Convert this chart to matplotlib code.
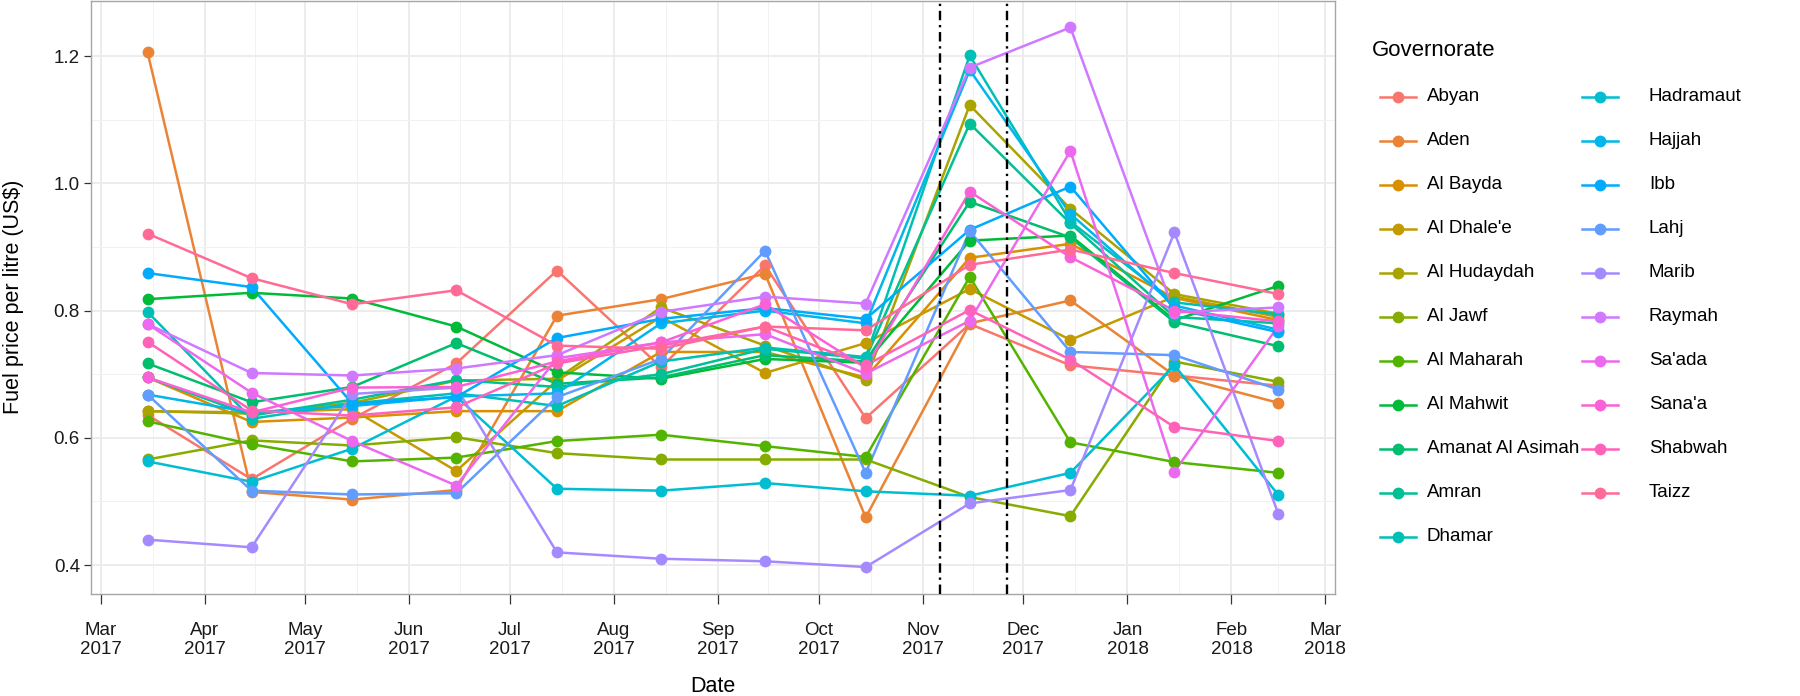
import numpy as np
import pandas as pd
import matplotlib
matplotlib.use('Agg')
import matplotlib.pyplot as plt
from matplotlib.lines import Line2D

plt.rcParams['font.family'] = ['Liberation Sans', 'DejaVu Sans']

# --------- data
dates = pd.to_datetime(['2017-03-15', '2017-04-15', '2017-05-15', '2017-06-15',
                        '2017-07-15', '2017-08-15', '2017-09-15', '2017-10-15',
                        '2017-11-15', '2017-12-15', '2018-01-15', '2018-02-15'])

governorates = ['Abyan', 'Aden', 'Al Bayda', "Al Dhale'e", 'Al Hudaydah', 'Al Jawf',
                'Al Maharah', 'Al Mahwit', 'Amanat Al Asimah', 'Amran', 'Dhamar',
                'Hadramaut', 'Hajjah', 'Ibb', 'Lahj', 'Marib', 'Raymah', "Sa'ada",
                "Sana'a", 'Shabwah', 'Taizz']

abyan = [0.636, 0.535, 0.630, 0.717, 0.863, 0.711, 0.871, 0.631, 0.779, 0.714, 0.698, 0.682]
aden = [1.206, 0.515, 0.503, 0.518, 0.792, 0.818, 0.858, 0.475, 0.780, 0.816, 0.698, 0.655]
al_bayda = [0.695, 0.625, 0.632, 0.642, 0.642, 0.735, 0.735, 0.695, 0.883, 0.905, 0.820, 0.785]
al_dhalee = [0.642, 0.640, 0.645, 0.548, 0.690, 0.790, 0.702, 0.749, 0.834, 0.754, 0.822, 0.790]
al_hudaydah = [0.642, 0.638, 0.655, 0.690, 0.693, 0.805, 0.745, 0.691, 1.123, 0.960, 0.826, 0.795]
al_jawf = [0.566, 0.596, 0.588, 0.601, 0.576, 0.566, 0.566, 0.566, 0.507, 0.477, 0.720, 0.688]
al_maharah = [0.626, 0.590, 0.563, 0.569, 0.595, 0.605, 0.587, 0.570, 0.853, 0.593, 0.562, 0.545]
al_mahwit = [0.818, 0.828, 0.819, 0.775, 0.703, 0.693, 0.724, 0.718, 0.910, 0.918, 0.785, 0.839]
amanat = [0.717, 0.656, 0.680, 0.749, 0.685, 0.695, 0.730, 0.720, 0.971, 0.915, 0.782, 0.744]
amran = [0.695, 0.635, 0.660, 0.691, 0.680, 0.700, 0.740, 0.725, 1.094, 0.937, 0.790, 0.780]
dhamar = [0.798, 0.630, 0.654, 0.670, 0.650, 0.720, 0.742, 0.727, 1.201, 0.940, 0.813, 0.794]
hadramaut = [0.563, 0.531, 0.583, 0.665, 0.520, 0.517, 0.529, 0.516, 0.509, 0.545, 0.714, 0.510]
hajjah = [0.668, 0.640, 0.650, 0.665, 0.670, 0.780, 0.800, 0.780, 1.178, 0.952, 0.808, 0.770]
ibb = [0.859, 0.837, 0.654, 0.664, 0.757, 0.787, 0.804, 0.787, 0.927, 0.995, 0.803, 0.766]
lahj = [0.668, 0.517, 0.511, 0.513, 0.664, 0.724, 0.894, 0.545, 0.925, 0.735, 0.730, 0.676]
marib = [0.440, 0.428, 0.669, 0.679, 0.420, 0.410, 0.406, 0.397, 0.497, 0.518, 0.923, 0.480]
raymah = [0.779, 0.702, 0.698, 0.709, 0.730, 0.798, 0.822, 0.811, 1.182, 1.245, 0.797, 0.805]
saada = [0.779, 0.671, 0.595, 0.525, 0.725, 0.750, 0.763, 0.701, 0.784, 1.051, 0.547, 0.776]
sanaa = [0.695, 0.640, 0.679, 0.680, 0.720, 0.750, 0.810, 0.710, 0.987, 0.884, 0.800, 0.783]
shabwah = [0.751, 0.643, 0.635, 0.648, 0.717, 0.745, 0.775, 0.714, 0.801, 0.723, 0.617, 0.595]
taizz = [0.921, 0.851, 0.810, 0.832, 0.745, 0.740, 0.775, 0.769, 0.872, 0.896, 0.859, 0.826]

prices = [abyan, aden, al_bayda, al_dhalee, al_hudaydah, al_jawf, al_maharah, al_mahwit,
          amanat, amran, dhamar, hadramaut, hajjah, ibb, lahj, marib, raymah, saada,
          sanaa, shabwah, taizz]

events = pd.to_datetime(['2017-11-06', '2017-11-26'])


# --------- ggplot 預設色盤 (hcl, c=100, l=65)
def hue_pal(n, c=100.0, l=65.0):
    hues = np.linspace(15, 375, n + 1)[:n]
    xn, yn, zn = 0.95047, 1.0, 1.08883
    un = 4 * xn / (xn + 15 * yn + 3 * zn)
    vn = 9 * yn / (xn + 15 * yn + 3 * zn)
    out = []
    for h in hues:
        u = c * np.cos(np.radians(h))
        v = c * np.sin(np.radians(h))
        Y = ((l + 16) / 116) ** 3
        up = u / (13 * l) + un
        vp = v / (13 * l) + vn
        X = Y * 9 * up / (4 * vp)
        Z = Y * (12 - 3 * up - 20 * vp) / (4 * vp)
        rgb = np.array([3.2404542 * X - 1.5371385 * Y - 0.4985314 * Z,
                        -0.9692660 * X + 1.8760108 * Y + 0.0415560 * Z,
                        0.0556434 * X - 0.2040259 * Y + 1.0572252 * Z])
        rgb = np.where(rgb <= 0.0031308, 12.92 * rgb, 1.055 * np.abs(rgb) ** (1 / 2.4) - 0.055)
        out.append(tuple(np.clip(rgb, 0, 1)))
    return out


colors = hue_pal(len(governorates))

W, H = 1800, 696
fig = plt.figure(figsize=(W / 100, H / 100), dpi=100)
ax = fig.add_axes([91 / W, 1 - 594 / H, (1335 - 91) / W, 593.5 / H])

for vals, col in zip(prices, colors):
    ax.plot(dates, vals, '-', color=col, lw=1.8, zorder=2)
for vals, col in zip(prices, colors):
    ax.plot(dates, vals, 'o', color=col, ms=8.5, mew=0, zorder=3)

for d in events:
    ax.axvline(d, color='black', lw=1.7, ls=(0, (4, 2, 1, 2)), zorder=4)

# --------- axes
span = dates[-1] - dates[0]
ax.set_xlim(dates[0] - 0.05 * span, dates[-1] + 0.05 * span)
ax.set_ylim(0.3546, 1.2874)

months = pd.date_range('2017-03-01', '2018-03-01', freq='MS')
ax.set_xticks(months)
ax.set_xticklabels([m.strftime('%b\n%Y') for m in months])
ax.set_xticks(months[:-1] + (months[1:] - months[:-1]) / 2, minor=True)
ax.set_yticks([0.4, 0.6, 0.8, 1.0, 1.2])
ax.set_yticklabels(['0.4', '0.6', '0.8', '1.0', '1.2'])
ax.set_yticks([0.5, 0.7, 0.9, 1.1], minor=True)

ax.grid(True, which='major', color='#EBEBEB', lw=1.3, zorder=0)
ax.grid(True, which='minor', color='#F2F2F2', lw=0.7, zorder=0)
ax.set_axisbelow(True)
for s in ax.spines.values():
    s.set_color('#A6A6A6')
    s.set_linewidth(1.0)
ax.tick_params(which='major', width=0.9, color='#333333',
               labelsize=13.5, labelcolor='#1a1a1a')
ax.tick_params(axis='x', which='major', length=7, pad=13)
ax.tick_params(axis='y', which='major', length=5, pad=3)
ax.tick_params(which='minor', length=0)

fig.text(713 / W, 1 - 686 / H, 'Date', fontsize=15.5, ha='center', va='center')
fig.text(14 / W, 1 - 297 / H, 'Fuel price per litre (US$)', fontsize=15.5,
         rotation=90, ha='center', va='center')

# --------- 圖例 (兩欄)
fig.text(1372 / W, 1 - 50 / H, 'Governorate', fontsize=16, ha='left', va='center')
for i, (name, col) in enumerate(zip(governorates, colors)):
    c, r = divmod(i, 11)
    cx = [1398, 1600][c]
    tx = [1427, 1649][c]
    y = 1 - (96.7 + 44 * r) / H
    fig.add_artist(Line2D([(cx - 18) / W, (cx + 18) / W], [y, y], color=col, lw=1.8,
                          transform=fig.transFigure))
    fig.add_artist(Line2D([cx / W], [y], marker='o', color=col, ms=8.5, mew=0,
                          transform=fig.transFigure))
    fig.text(tx / W, y, name, fontsize=13.5, ha='left', va='center')

fig.savefig('out.png', dpi=100)
